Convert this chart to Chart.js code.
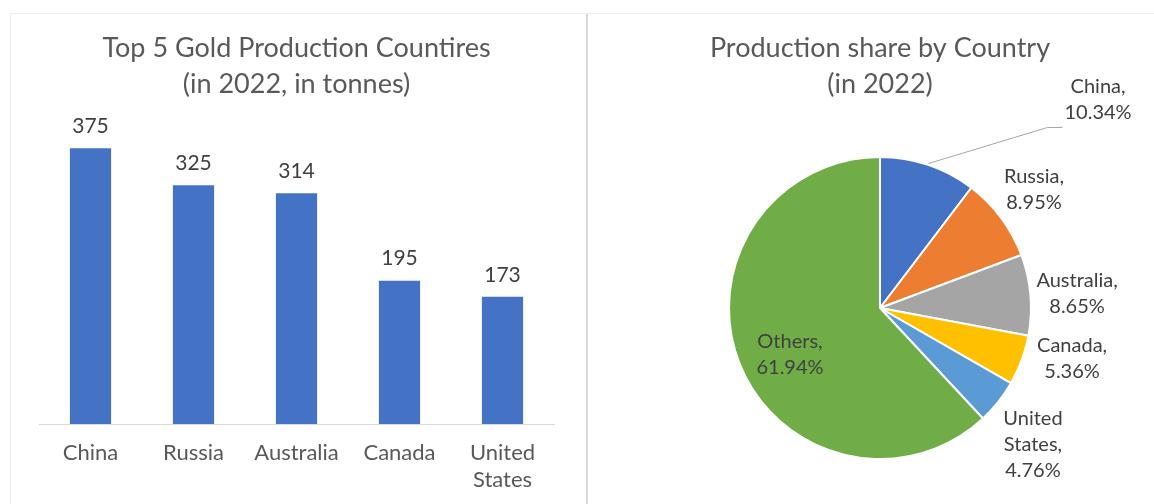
<!DOCTYPE html>
<html>
<head>
<meta charset="utf-8">
<script src="https://cdn.jsdelivr.net/npm/chart.js@4"></script>
<style>
  html, body { margin: 0; padding: 0; background: #ffffff; }
  body { width: 1154px; height: 504px; position: relative; overflow: hidden; }
  #frame { position: absolute; left: 10px; top: 13px; width: 1144px; height: 491px;
           border-top: 1px solid #ececec; border-left: 1px solid #ececec; }
  #divider { position: absolute; left: 586px; top: 14px; width: 2px; height: 490px; background: #d9d9d9; }
  #barCanvas { position: absolute; left: 11px; top: 14px; }
  #pieCanvas { position: absolute; left: 588px; top: 14px; }
</style>
</head>
<body>
<div id="frame"></div>
<div id="divider"></div>
<canvas id="barCanvas" width="575" height="500"></canvas>
<canvas id="pieCanvas" width="566" height="490"></canvas>
<script>
// ---- data ----
const categories = ['China', 'Russia', 'Australia', 'Canada', 'United States'];
const production = [375, 325, 314, 195, 173];
const pieCategories = ['China', 'Russia', 'Australia', 'Canada', 'United States', 'Others'];
const shares = [10.34, 8.95, 8.65, 5.36, 4.76, 61.94];
const barTitle = ['Top 5 Gold Production Countires', '(in 2022, in tonnes)'];
const pieTitle = ['Production share by Country', '(in 2022)'];

// ---- styling / layout (not data) ----
const FONT = 'Lato, "Open Sans", sans-serif';
const TITLE_COLOR = '#595959';
const LABEL_COLOR = '#404040';
const barColor = '#4472C4';
const pieColors = ['#4472C4', '#ED7D31', '#A5A5A5', '#FFC000', '#5B9BD5', '#70AD47'];
// label block centre offsets, in units of the pie radius, relative to the pie centre
const pieLabelOffsets = [
  {x: 1.444, y: -1.381, leader: true},
  {x: 1.020, y: -0.785},
  {x: 1.305, y: -0.093},
  {x: 1.272, y: 0.334},
  {x: 1.013, y: 0.907},
  {x: -0.596, y: 0.311}
];

const splitWords = s => s.includes(' ') ? s.split(' ') : s;

const barLabelPlugin = {
  id: 'barLabels',
  afterDatasetsDraw(chart) {
    const ctx = chart.ctx;
    const meta = chart.getDatasetMeta(0);
    ctx.save();
    ctx.font = '21px ' + FONT;
    ctx.fillStyle = LABEL_COLOR;
    ctx.textAlign = 'center';
    ctx.textBaseline = 'middle';
    meta.data.forEach((bar, i) => {
      ctx.fillText(String(chart.data.datasets[0].data[i]), bar.x, bar.y - 22);
    });
    ctx.restore();
  }
};

new Chart(document.getElementById('barCanvas'), {
  type: 'bar',
  data: {
    labels: categories.map(splitWords),
    datasets: [{ data: production, backgroundColor: barColor, categoryPercentage: 1, barPercentage: 0.4 }]
  },
  options: {
    responsive: false,
    animation: false,
    events: [],
    layout: { padding: { left: 28, right: 32, top: 16, bottom: 6 } },
    plugins: {
      legend: { display: false },
      tooltip: { enabled: false },
      title: {
        display: true, text: barTitle, color: TITLE_COLOR,
        font: { family: FONT, size: 27, weight: 'normal', lineHeight: 1.3333 },
        padding: { top: 0, bottom: 28 }
      }
    },
    scales: {
      y: { display: false, min: 0, max: 400 },
      x: {
        grid: { display: false, drawTicks: false },
        border: { display: true, color: '#d9d9d9', width: 1 },
        ticks: { color: TITLE_COLOR, font: { family: FONT, size: 22, lineHeight: 1.227 }, padding: 15, maxRotation: 0 }
      }
    }
  },
  plugins: [barLabelPlugin]
});

const pieLabelPlugin = {
  id: 'pieLabels',
  afterDatasetsDraw(chart) {
    const ctx = chart.ctx;
    const meta = chart.getDatasetMeta(0);
    const lh = 26;
    ctx.save();
    ctx.font = '20px ' + FONT;
    ctx.fillStyle = LABEL_COLOR;
    ctx.textAlign = 'center';
    ctx.textBaseline = 'middle';
    meta.data.forEach((arc, i) => {
      const r = arc.outerRadius;
      const off = pieLabelOffsets[i];
      const words = chart.data.labels[i].split(' ');
      words[words.length - 1] += ',';
      const lines = words.concat([chart.data.datasets[0].data[i].toFixed(2) + '%']);
      const cx = arc.x + off.x * r;
      const cy = arc.y + off.y * r;
      const y0 = cy - (lines.length - 1) * lh / 2;
      lines.forEach((t, k) => ctx.fillText(t, cx, y0 + k * lh));
      if (off.leader) {
        const mid = (arc.startAngle + arc.endAngle) / 2;
        const sx = arc.x + Math.cos(mid) * r * 1.01;
        const sy = arc.y + Math.sin(mid) * r * 1.01;
        const lastY = y0 + (lines.length - 1) * lh;
        const w = ctx.measureText(lines[lines.length - 1]).width;
        const ex = cx - w / 2 - 2;
        const ey = lastY + 15;
        ctx.beginPath();
        ctx.strokeStyle = '#a6a6a6';
        ctx.lineWidth = 1;
        ctx.moveTo(sx, sy);
        ctx.lineTo(ex - 15, ey);
        ctx.lineTo(ex, ey);
        ctx.stroke();
      }
    });
    ctx.restore();
  }
};

new Chart(document.getElementById('pieCanvas'), {
  type: 'pie',
  data: {
    labels: pieCategories,
    datasets: [{ data: shares, backgroundColor: pieColors, borderColor: '#ffffff', borderWidth: 2, hoverOffset: 0, radius: 151 }]
  },
  options: {
    responsive: false,
    animation: false,
    events: [],
    layout: { padding: { left: 18, right: 0, top: 16, bottom: 10 } },
    plugins: {
      legend: { display: false },
      tooltip: { enabled: false },
      title: {
        display: true, text: pieTitle, color: TITLE_COLOR,
        font: { family: FONT, size: 27, weight: 'normal', lineHeight: 1.3333 },
        padding: { top: 0, bottom: 20 }
      }
    }
  },
  plugins: [pieLabelPlugin]
});
</script>
</body>
</html>
